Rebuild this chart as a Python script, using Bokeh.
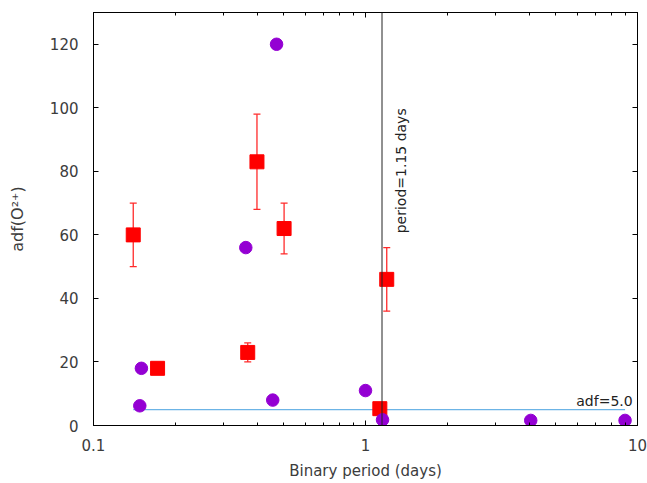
from bokeh.plotting import figure
from bokeh.models import (ColumnDataSource, Whisker, TeeHead, Span, FixedTicker,
                          LogAxis, LinearAxis, CustomJSTickFormatter, Range1d)
from bokeh.core.properties import value
from bokeh.embed import file_html
from bokeh.resources import INLINE
import math

# ---- data ----
circ_period = [0.15, 0.148, 0.363, 0.456, 0.471, 1.0, 1.155, 4.05, 9.0]
circ_adf = [18, 6.2, 56, 8, 120, 11, 1.8, 1.6, 1.6]

sq_period = [0.14, 0.172, 0.369, 0.399, 0.502, 1.197, 1.129]
sq_adf = [60, 18, 23, 83, 62, 46, 5.3]
sq_low = [50, 18, 20, 68, 54, 36, 5.3]
sq_high = [70, 18, 26, 98, 70, 56, 5.3]

thresh_period = [0.14, 9.0]
thresh_adf = [5.0, 5.0]
split_period = 1.15

x_ticks = [0.1, 1, 10]
x_minor = [0.2, 0.3, 0.4, 0.5, 0.6, 0.7, 0.8, 0.9, 2, 3, 4, 5, 6, 7, 8, 9]
y_ticks = [0, 20, 40, 60, 80, 100, 120]

FONT = "DejaVu Sans"
TXT = "#3c3c3c"

p = figure(width=647, height=483, x_axis_type="log", output_backend="svg",
           toolbar_location=None, x_range=Range1d(0.1, 10), y_range=Range1d(0, 130),
           min_border_left=93, min_border_right=10, min_border_top=12, min_border_bottom=58)
p.grid.visible = False
p.background_fill_color = "white"
p.border_fill_color = "white"
p.outline_line_color = "black"
p.outline_line_width = 1

xt = FixedTicker(ticks=x_ticks, minor_ticks=x_minor)
yt = FixedTicker(ticks=y_ticks, minor_ticks=[])

fmt = CustomJSTickFormatter(code="return tick.toString();")

xa = p.xaxis[0]
xa.ticker = xt
xa.formatter = fmt
ya = p.yaxis[0]
ya.ticker = yt

for ax in (xa, ya):
    ax.major_tick_in = 5
    ax.major_tick_out = 0
    ax.minor_tick_in = 3
    ax.minor_tick_out = 0
    ax.axis_line_color = "black"
    ax.major_tick_line_color = "black"
    ax.minor_tick_line_color = "black"
    ax.major_label_text_font = FONT
    ax.major_label_text_font_size = "15px"
    ax.major_label_text_color = TXT
    ax.axis_label_text_font = FONT
    ax.axis_label_text_font_size = "15px"
    ax.axis_label_text_color = TXT
    ax.axis_label_text_font_style = "normal"

xa.axis_label = "Binary period (days)"
xa.major_label_standoff = 13
xa.axis_label_standoff = 8
ya.axis_label = "adf(O²⁺)"
ya.axis_label_text_font_size = "16px"
ya.major_label_standoff = 15
ya.axis_label_standoff = 20

top = LogAxis(ticker=FixedTicker(ticks=x_ticks, minor_ticks=x_minor), formatter=fmt)
right = LinearAxis(ticker=FixedTicker(ticks=y_ticks, minor_ticks=[]))
for ax in (top, right):
    ax.major_tick_in = 5
    ax.major_tick_out = 0
    ax.minor_tick_in = 3
    ax.minor_tick_out = 0
    ax.major_label_text_font_size = "1px"
    ax.major_label_text_alpha = 0
    ax.major_label_standoff = 0
    ax.axis_line_color = "black"
p.add_layout(top, "above")
p.add_layout(right, "right")

# reference lines
p.add_layout(Span(location=split_period, dimension="height", line_color="#222222", line_width=1))
p.line(thresh_period, thresh_adf, line_color="#6cb4e6", line_width=1.2)

# error bars
src_sq = ColumnDataSource(dict(x=sq_period, y=sq_adf, lo=sq_low, hi=sq_high))
p.add_layout(Whisker(source=src_sq, base="x", lower="lo", upper="hi",
                     line_color="#ff2a2a", line_width=1.3,
                     upper_head=TeeHead(size=7, line_color="#ff2a2a", line_width=1.3),
                     lower_head=TeeHead(size=7, line_color="#ff2a2a", line_width=1.3)))

p.scatter("x", "y", source=src_sq, marker="square", size=14, fill_color="#ff0000",
          line_color="#ff0000")
p.scatter(circ_period, circ_adf, marker="circle", size=12.5, fill_color="#9400d3",
          line_color="#9400d3")

# annotations
p.text(x=[1.35], y=[60.5], text=["period=1.15 days"], angle=math.pi / 2,
       text_align="left", text_baseline="middle", text_font=value(FONT),
       text_font_size="14px", text_color="#222222")
p.text(x=[9.6], y=[5], text=["adf=5.0"], text_align="right", text_baseline="bottom",
       y_offset=-1, text_font=value(FONT), text_font_size="14px", text_color="#222222")

open("out.html", "w").write(file_html(p, INLINE))
